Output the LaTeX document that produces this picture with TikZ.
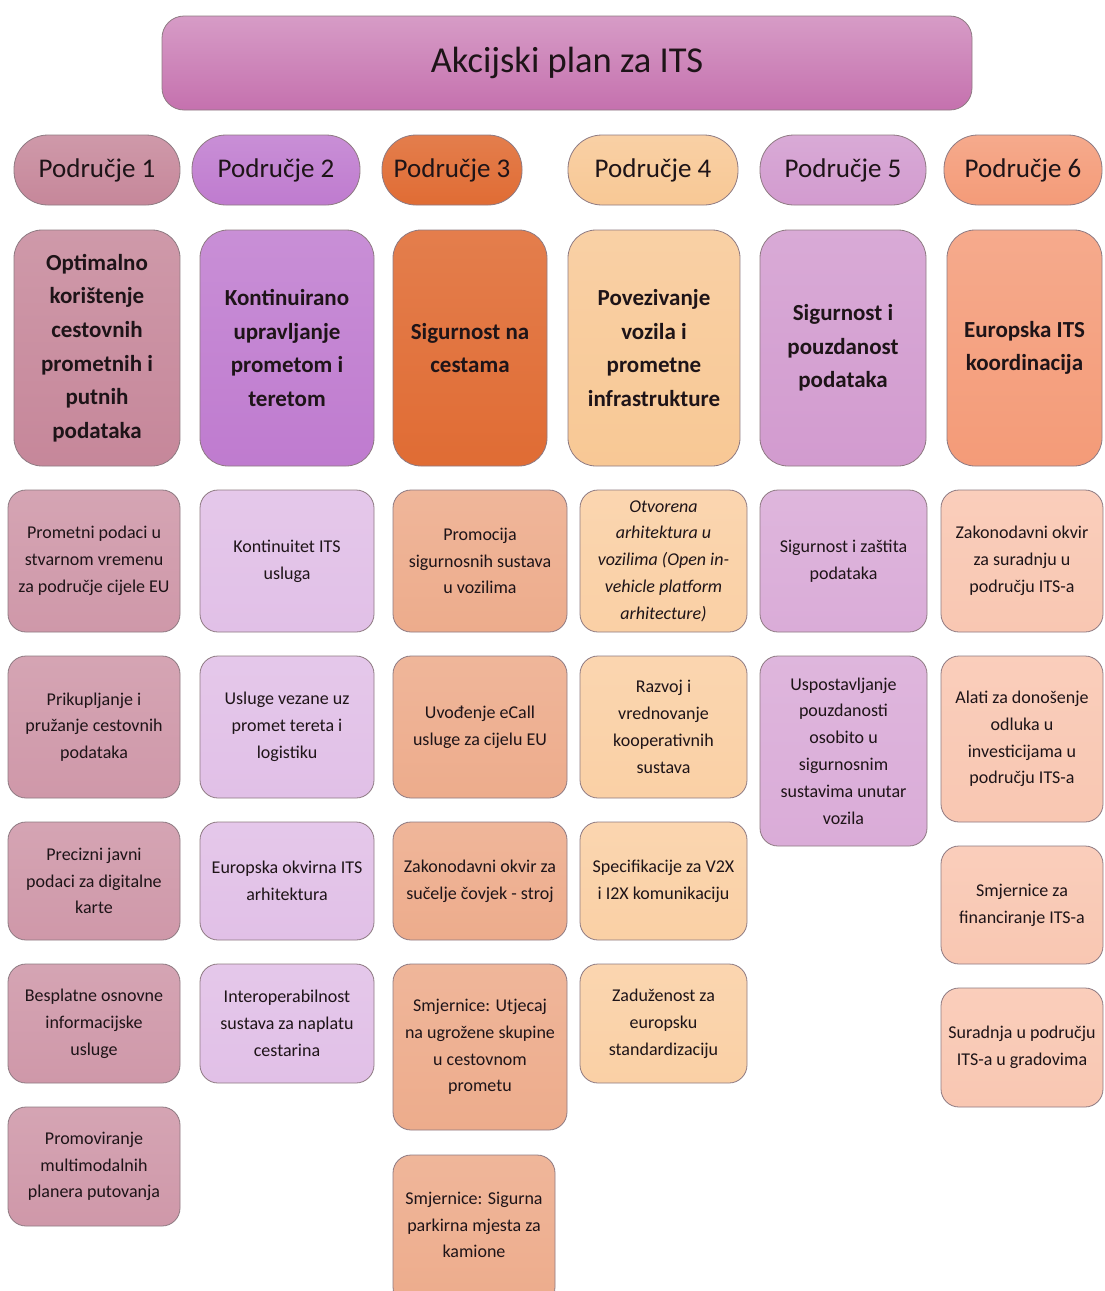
\documentclass[tikz,border=0pt]{standalone}
\usepackage{fontspec}
\setmainfont{Carlito}
\definecolor{tcol}{HTML}{C571AE}
\definecolor{hA}{HTML}{C6879A}
\definecolor{hB}{HTML}{BF7BCF}
\definecolor{hC}{HTML}{E06C34}
\definecolor{hD}{HTML}{F8C895}
\definecolor{hE}{HTML}{D29BCF}
\definecolor{hF}{HTML}{F49B78}
\definecolor{iA}{HTML}{CF98A9}
\definecolor{iB}{HTML}{E1C0E7}
\definecolor{iC}{HTML}{EDAC8C}
\definecolor{iD}{HTML}{FAD0A5}
\definecolor{iE}{HTML}{DAACD8}
\definecolor{iF}{HTML}{F9C7B2}
\definecolor{txt}{HTML}{1E1418}
\definecolor{edge}{HTML}{8E7A82}
\begin{document}
\begin{tikzpicture}[x=1pt,y=-1pt,
  every node/.style={text=txt},
  boxbase/.style={draw=edge, line width=0.8pt, align=center, inner sep=0pt},
  titlebox/.style={boxbase, rounded corners=22pt, minimum width=810, minimum height=94,
     top color=tcol!70!white, bottom color=tcol, font=\fontsize{36.5}{40}\selectfont},
  pill/.style={boxbase, rounded corners=34pt, minimum height=70, font=\fontsize{27}{30}\selectfont},
  headbox/.style={boxbase, rounded corners=28pt, minimum height=236, font=\bfseries\fontsize{23}{33.6}\selectfont},
  itemfont/.style={font=\fontsize{18}{26.8}\selectfont},
  itembox/.style={boxbase, rounded corners=18pt, itemfont},
  hfA/.style={top color=hA!85!white, bottom color=hA},
  hfB/.style={top color=hB!85!white, bottom color=hB},
  hfC/.style={top color=hC!88!white, bottom color=hC},
  hfD/.style={top color=hD!85!white, bottom color=hD},
  hfE/.style={top color=hE!85!white, bottom color=hE},
  hfF/.style={top color=hF!85!white, bottom color=hF},
  ifA/.style={top color=iA!88!white, bottom color=iA},
  ifB/.style={top color=iB!88!white, bottom color=iB},
  ifC/.style={top color=iC!88!white, bottom color=iC},
  ifD/.style={top color=iD!88!white, bottom color=iD},
  ifE/.style={top color=iE!88!white, bottom color=iE},
  ifF/.style={top color=iF!88!white, bottom color=iF},
  colA/.style={minimum width=172},
  colB/.style={minimum width=174},
  colC/.style={minimum width=174},
  colD/.style={minimum width=167},
  colE/.style={minimum width=167},
  colF/.style={minimum width=162},
  rowone/.style={minimum height=142},
  rowtwo/.style={minimum height=142},
  rowshort/.style={minimum height=118}
]
\useasboundingbox (0,0) rectangle (1104,1291);
\clip (0,0) rectangle (1104,1291);
\fill[white] (0,0) rectangle (1104,1291);

% title
\node[titlebox] (title) at (567,63) {Akcijski plan za ITS};

% area pills
\node[pill, hfA, minimum width=166] (p1) at (97,170) {Područje 1};
\node[pill, hfB, minimum width=168] (p2) at (276,170) {Područje 2};
\node[pill, hfC, minimum width=140] (p3) at (452,170) {Područje 3};
\node[pill, hfD, minimum width=170] (p4) at (653,170) {Područje 4};
\node[pill, hfE, minimum width=166] (p5) at (843,170) {Područje 5};
\node[pill, hfF, minimum width=158] (p6) at (1023,170) {Područje 6};

% header boxes
\node[headbox, hfA, minimum width=166] (h1) at (97,348) {Optimalno\\korištenje\\cestovnih\\prometnih i\\putnih\\podataka};
\node[headbox, hfB, minimum width=174] (h2) at (287,348) {Kontinuirano\\upravljanje\\prometom i\\teretom};
\node[headbox, hfC, minimum width=154] (h3) at (470,348) {Sigurnost na\\cestama};
\node[headbox, hfD, minimum width=172] (h4) at (654,348) {Povezivanje\\vozila i\\prometne\\infrastrukture};
\node[headbox, hfE, minimum width=166] (h5) at (843,348) {Sigurnost i\\pouzdanost\\podataka};
\node[headbox, hfF, minimum width=155] (h6) at (1024.5,348) {Europska ITS\\koordinacija};

% column 1
\node[itembox, ifA, colA, rowone] (a1) at (94,561) {Prometni podaci u\\stvarnom vremenu\\za područje cijele EU};
\node[itembox, ifA, colA, rowtwo] (a2) at (94,727) {Prikupljanje i\\pružanje cestovnih\\podataka};
\node[itembox, ifA, colA, rowshort] (a3) at (94,881) {Precizni javni\\podaci za digitalne\\karte};
\node[itembox, ifA, colA, minimum height=119] (a4) at (94,1023.5) {Besplatne osnovne\\informacijske\\usluge};
\node[itembox, ifA, colA, minimum height=119] (a5) at (94,1166.5) {Promoviranje\\multimodalnih\\planera putovanja};

% column 2
\node[itembox, ifB, colB, rowone] (b1) at (287,561) {Kontinuitet ITS\\usluga};
\node[itembox, ifB, colB, rowtwo] (b2) at (287,727) {Usluge vezane uz\\promet tereta i\\logistiku};
\node[itembox, ifB, colB, rowshort] (b3) at (287,881) {Europska okvirna ITS\\arhitektura};
\node[itembox, ifB, colB, minimum height=119] (b4) at (287,1023.5) {Interoperabilnost\\sustava za naplatu\\cestarina};

% column 3
\node[itembox, ifC, colC, rowone] (c1) at (480,561) {Promocija\\sigurnosnih sustava\\u vozilima};
\node[itembox, ifC, colC, rowtwo] (c2) at (480,727) {Uvođenje eCall\\usluge za cijelu EU};
\node[itembox, ifC, colC, rowshort] (c3) at (480,881) {Zakonodavni okvir za\\sučelje čovjek - stroj};
\node[itembox, ifC, colC, minimum height=166] (c4) at (480,1047) {Smjernice: Utjecaj\\na ugrožene skupine\\u cestovnom\\prometu};
\node[itembox, ifC, minimum width=162, minimum height=150] (c5) at (474,1230) {};
\node[itemfont, align=center] (c5t) at (474,1225) {Smjernice: Sigurna\\parkirna mjesta za\\kamione};

% column 4
\node[itembox, ifD, colD, rowone] (d1) at (663.5,561) {\itshape Otvorena\\\itshape arhitektura u\\\itshape vozilima (Open in-\\\itshape vehicle platform\\\itshape arhitecture)};
\node[itembox, ifD, colD, rowtwo] (d2) at (663.5,727) {Razvoj i\\vrednovanje\\kooperativnih\\sustava};
\node[itembox, ifD, colD, rowshort] (d3) at (663.5,881) {Specifikacije za V2X\\i I2X komunikaciju};
\node[itembox, ifD, colD, minimum height=119] (d4) at (663.5,1023.5) {Zaduženost za\\europsku\\standardizaciju};

% column 5
\node[itembox, ifE, colE, rowone] (e1) at (843.5,561) {Sigurnost i zaštita\\podataka};
\node[itembox, ifE, colE, minimum height=190] (e2) at (843.5,751) {Uspostavljanje\\pouzdanosti\\osobito u\\sigurnosnim\\sustavima unutar\\vozila};

% column 6
\node[itembox, ifF, colF, rowone] (f1) at (1022,561) {Zakonodavni okvir\\za suradnju u\\području ITS-a};
\node[itembox, ifF, colF, minimum height=166] (f2) at (1022,739) {Alati za donošenje\\odluka u\\investicijama u\\području ITS-a};
\node[itembox, ifF, colF, rowshort] (f3) at (1022,905) {Smjernice za\\financiranje ITS-a};
\node[itembox, ifF, colF, minimum height=119] (f4) at (1022,1047.5) {Suradnja u području\\ITS-a u gradovima};
\end{tikzpicture}
\end{document}
